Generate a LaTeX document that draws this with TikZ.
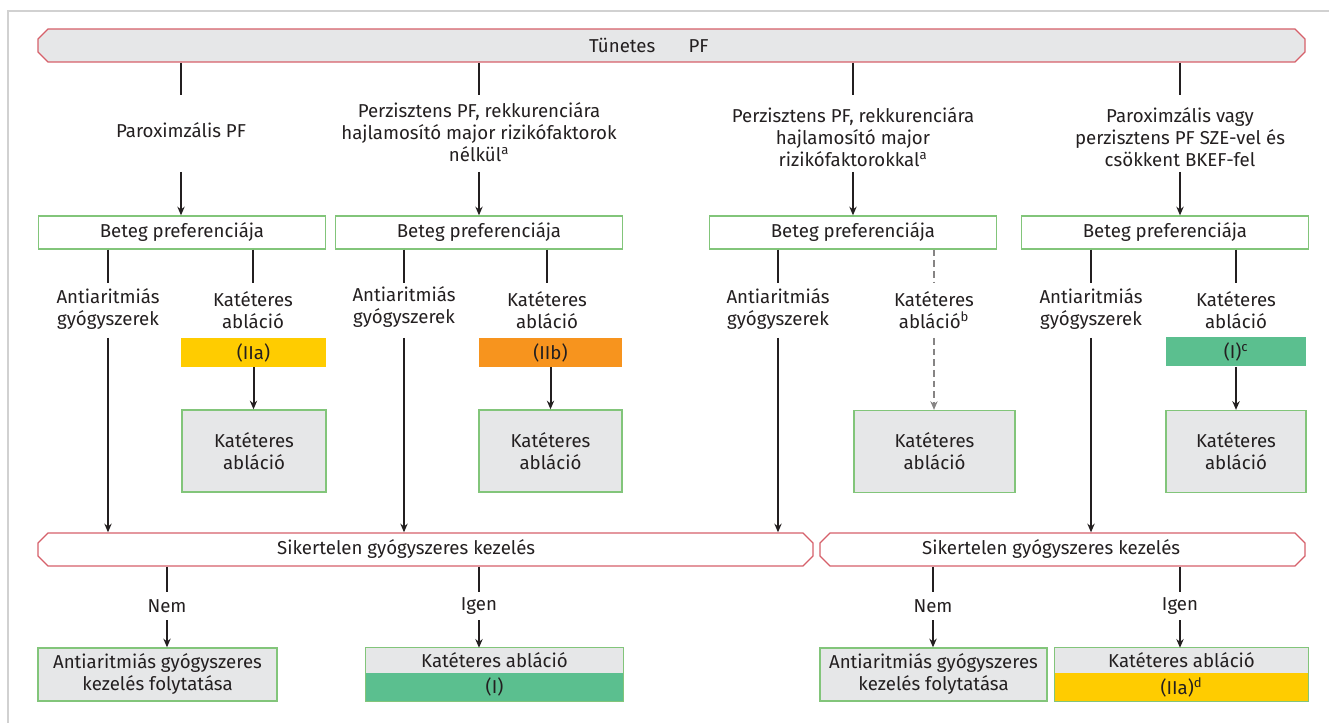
\documentclass[tikz,border=0pt]{standalone}
\usepackage{fontspec}
\setmainfont{Fira Sans}
\usetikzlibrary{arrows.meta, positioning, shapes.misc}
\definecolor{escred}{RGB}{214,96,106}
\definecolor{escgreen}{RGB}{130,197,122}
\definecolor{escgray}{RGB}{230,231,232}
\definecolor{escyellow}{RGB}{255,204,0}
\definecolor{escorange}{RGB}{247,148,30}
\definecolor{escmint}{RGB}{91,191,143}
\definecolor{escink}{RGB}{35,31,32}

\begin{document}
\begin{tikzpicture}[x=0.75pt, y=-0.75pt,
  every node/.style={font=\fontsize{14}{16.5}\selectfont, text=escink, inner sep=0pt, align=center},
  conn/.style={escink, line width=1.5pt},
  arr/.style={conn, -{Stealth[length=6.5pt, width=5.5pt]}},
  maybe/.style={escink!55, line width=0.9pt, dash pattern=on 5pt off 3pt},
  bar/.style={chamfered rectangle, chamfered rectangle xsep=3.75pt, chamfered rectangle ysep=3.75pt, draw=escred, line width=1pt, minimum height=24.75pt},
  pref/.style={draw=escgreen, line width=1pt, fill=white, minimum width=215.25pt, minimum height=24.75pt},
  treat/.style={draw=escgreen, line width=1pt, fill=escgray},
  grade/.style={minimum height=21.75pt}]
    \useasboundingbox (0,0) rectangle (1329,723);
    \draw[black!18, line width=1pt] (1329,11) -- (8,11) -- (8,723);
    % levels
    \coordinate (lvA) at (0,95);
    \coordinate (lvB) at (0,172);
    \coordinate (lvC) at (0,283);
    \coordinate (lvD) at (0,338);
    \coordinate (lvF) at (0,592);
    \coordinate (lvG) at (0,620);
    % top
    \node[bar, fill=escgray, minimum width=950.25pt] (tun) at (671.5,45.5) {Tünetes\hspace{25pt}PF\hspace{34pt}};
    \node (par) at (181,130) {Paroximzális PF};
    \node (pnr) at (479,132) {Perzisztens PF, rekkurenciára\\hajlamosító major rizikófaktorok\\nélkül\textsuperscript{a}};
    \node (pwr) at (853,137) {Perzisztens PF, rekkurenciára\\hajlamosító major\\rizikófaktorokkal\textsuperscript{a}};
    \node (hf) at (1180,137) {Paroximzális vagy\\perzisztens PF SZE-vel és\\csökkent BKEF-fel};
    % preference
    \node[pref] (pref1) at (182,232.5) {Beteg preferenciája};
    \node[pref] (pref2) at (479,232.5) {Beteg preferenciája};
    \node[pref] (pref3) at (853,232.5) {Beteg preferenciája};
    \node[pref] (pref4) at (1165,232.5) {Beteg preferenciája};
    \node (aa1) at (108,309) {Antiaritmiás\\gyógyszerek};
    \node (aa2) at (404,307) {Antiaritmiás\\gyógyszerek};
    \node (aa3) at (778,309) {Antiaritmiás\\gyógyszerek};
    \node (aa4) at (1091,309) {Antiaritmiás\\gyógyszerek};
    \node (ka1) at (253,310) {Katéteres\\abláció};
    \node (ka2) at (547,310) {Katéteres\\abláció};
    \node (ka3) at (934,310) {Katéteres\\abláció\textsuperscript{b}};
    \node (ka4) at (1236,310) {Katéteres\\abláció};
    % grades
    \node[grade, fill=escyellow, minimum width=108.75pt] (g1) at (253.5,352.5) {(IIa)};
    \node[grade, fill=escorange, minimum width=107.25pt] (g2) at (550.5,352.5) {(IIb)};
    \node[grade, fill=escmint, minimum width=105pt] (g4) at (1236,352) {(I)\textsuperscript{c}};
    \node[treat, minimum width=108pt, minimum height=61.5pt] (c1) at (254,451) {Katéteres\\abláció};
    \node[treat, minimum width=107.25pt, minimum height=61.5pt] (c2) at (550.5,451) {Katéteres\\abláció};
    \node[treat, minimum width=120.75pt, minimum height=61.5pt] (c3) at (934.5,451.5) {Katéteres\\abláció};
    \node[treat, minimum width=105pt, minimum height=61.5pt] (c4) at (1236,451.5) {Katéteres\\abláció};
    % failure
    \node[bar, fill=white, minimum width=581.25pt] (sikA) at (425.5,549.5) {Sikertelen gyógyszeres kezelés\hspace{29pt}};
    \node[bar, fill=white, minimum width=363.75pt] (sikB) at (1062.5,549.5) {Sikertelen gyógyszeres kezelés\hspace{17pt}};
    \node (nem1) at (167,606) {Nem};
    \node (igen1) at (479,606) {Igen};
    \node (nem2) at (933,606) {Nem};
    \node (igen2) at (1180,606) {Igen};
    \node[treat, minimum width=179.25pt, minimum height=39.75pt] (cont1) at (157.5,674.5) {Antiaritmiás gyógyszeres\\kezelés folytatása};
    \node[treat, minimum width=170.25pt, minimum height=39.75pt] (cont2) at (933.5,674.5) {Antiaritmiás gyógyszeres\\kezelés folytatása};
    \node[fill=escgray, minimum width=192.75pt, minimum height=18.75pt] (kh1) at (494.5,660.5) {Katéteres abláció};
    \node[fill=escmint, minimum width=192.75pt, minimum height=21pt] (kg1) at (494.5,687) {(I)};
    \node[fill=escgray, minimum width=189.75pt, minimum height=18.75pt] (kh2) at (1181.5,660.5) {Katéteres abláció};
    \node[fill=escyellow, minimum width=189.75pt, minimum height=21pt] (kg2) at (1181.5,687) {(IIa)\textsuperscript{d}};
    \draw[escgreen, line width=1pt] (kh1.north west) rectangle (kg1.south east);
    \draw[escgreen, line width=1pt] (kh2.north west) rectangle (kg2.south east);
    % connectors
    \foreach \c/\p in {par/pref1, pnr/pref2, pwr/pref3, hf/pref4} {
        \draw[conn] (tun.south -| \c) -- (\c |- lvA);
        \draw[arr] (\c |- lvB) -- (\c |- \p.north);
    }
    \foreach \a/\p/\s in {aa1/pref1/sikA, aa2/pref2/sikA, aa3/pref3/sikA, aa4/pref4/sikB} {
        \draw[conn] (\p.south -| \a) -- (\a |- lvC);
        \draw[arr] (\a |- lvD) -- (\a |- \s.north);
    }
    \foreach \k/\p in {ka1/pref1, ka2/pref2, ka4/pref4}
        \draw[conn] (\p.south -| \k) -- (\k |- lvC);
    \foreach \g/\c in {g1/c1, g2/c2, g4/c4}
        \draw[arr] (\g.south) -- (\g.south |- \c.north);
    \draw[maybe] (pref3.south -| ka3) -- (ka3 |- lvC);
    \draw[maybe, -{Stealth[length=6.5pt, width=5.5pt]}] (ka3 |- lvD) -- (ka3 |- c3.north);
    \foreach \n/\s/\b in {nem1/sikA/cont1, igen1/sikA/kh1, nem2/sikB/cont2, igen2/sikB/kh2} {
        \draw[conn] (\s.south -| \n) -- (\n |- lvF);
        \draw[arr] (\n |- lvG) -- (\n |- \b.north);
    }
\end{tikzpicture}
\end{document}
